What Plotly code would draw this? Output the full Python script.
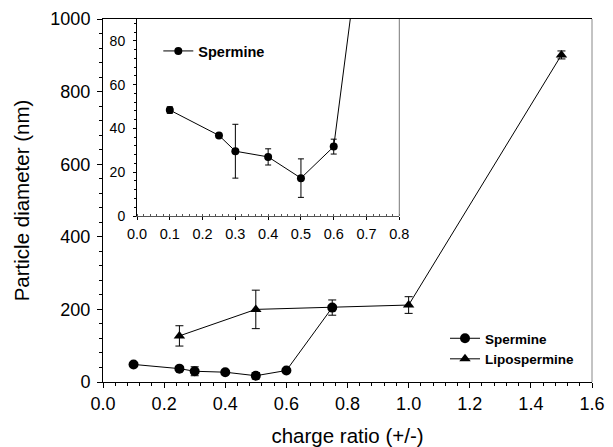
import plotly.graph_objects as go

# Data
sp_x = [0.1, 0.25, 0.3, 0.4, 0.5, 0.6, 0.75]
sp_y = [48.4, 36.8, 29.6, 27.0, 17.3, 31.7, 205.0]
sp_err = [1.5, 0.9, 12.3, 3.7, 8.8, 3.4, 21.0]

lipo_x = [0.25, 0.5, 1.0, 1.5]
lipo_y = [127.0, 200.0, 212.0, 901.0]
lipo_err = [28.0, 53.0, 23.0, 11.0]

main_xticks = [0.0, 0.2, 0.4, 0.6, 0.8, 1.0, 1.2, 1.4, 1.6]
main_yticks = [0, 200, 400, 600, 800, 1000]
inset_xticks = [0.0, 0.1, 0.2, 0.3, 0.4, 0.5, 0.6, 0.7, 0.8]
inset_yticks = [0, 20, 40, 60, 80]

FONT = "Liberation Sans, Arial, sans-serif"

fig = go.Figure()

fig.add_trace(go.Scatter(
    x=sp_x, y=sp_y, name="Spermine", mode="lines+markers",
    line=dict(color="black", width=1),
    marker=dict(symbol="circle", size=10, color="black"),
    error_y=dict(type="data", array=sp_err, color="black", thickness=1, width=4),
    xaxis="x", yaxis="y", legend="legend",
))
fig.add_trace(go.Scatter(
    x=lipo_x, y=lipo_y, name="Lipospermine", mode="lines+markers",
    line=dict(color="black", width=1),
    marker=dict(symbol="triangle-up", size=10, color="black"),
    error_y=dict(type="data", array=lipo_err, color="black", thickness=1, width=4),
    xaxis="x", yaxis="y", legend="legend",
))
fig.add_trace(go.Scatter(
    x=sp_x, y=sp_y, name="Spermine", mode="lines+markers",
    line=dict(color="black", width=1),
    marker=dict(symbol="circle", size=8, color="black"),
    error_y=dict(type="data", array=sp_err, color="black", thickness=1, width=3),
    xaxis="x2", yaxis="y2", legend="legend2",
))

inset_x0 = (136.7 - 102.7) / 489.0
inset_x1 = (399.0 - 102.7) / 489.0
inset_y0 = (382.0 - 216.0) / 363.0

fig.update_layout(
    width=613, height=447,
    margin=dict(l=103, r=21, t=19, b=65, autoexpand=False),
    paper_bgcolor="white", plot_bgcolor="white",
    font=dict(family=FONT, color="black"),
    xaxis=dict(
        domain=[0, 1], range=[0, 1.6], tickvals=main_xticks,
        ticktext=[f"{v:.1f}" for v in main_xticks], automargin=False,
        showgrid=False, zeroline=False, showline=True, linecolor="black",
        linewidth=1, mirror=True, ticks="outside", ticklen=5, tickcolor="black",
        minor=dict(dtick=0.04, ticks="outside", ticklen=3, tickcolor="black"),
        tickfont=dict(size=18),
        title=dict(text="charge ratio (+/-)", font=dict(size=20.5), standoff=16),
    ),
    yaxis=dict(
        domain=[0, 1], range=[0, 1000], tickvals=main_yticks, automargin=False,
        showgrid=False, zeroline=False, showline=True, linecolor="black",
        linewidth=1, ticks="outside", ticklen=5, tickcolor="black",
        minor=dict(dtick=40, ticks="outside", ticklen=3, tickcolor="black"),
        tickfont=dict(size=18), ticklabelstandoff=3,
        title=dict(text="Particle diameter (nm)", font=dict(size=20.5), standoff=15),
    ),
    xaxis2=dict(
        domain=[inset_x0, inset_x1], anchor="y2", range=[0, 0.8], automargin=False,
        tickvals=inset_xticks, ticktext=[f"{v:.1f}" for v in inset_xticks],
        showgrid=False, zeroline=False, showline=True, linecolor="#555555",
        linewidth=1, ticks="outside", ticklen=3, tickcolor="black",
        minor=dict(dtick=0.02, ticks="inside", ticklen=2, tickcolor="#555555"),
        tickfont=dict(size=14.5), ticklabelstandoff=2,
    ),
    yaxis2=dict(
        domain=[inset_y0, 1], anchor="x2", range=[0, 90], automargin=False,
        tickvals=inset_yticks,
        showgrid=False, zeroline=False, showline=True, linecolor="black",
        linewidth=1, ticks="outside", ticklen=3, tickcolor="black",
        minor=dict(dtick=4, ticks="outside", ticklen=2, tickcolor="black"),
        tickfont=dict(size=14), ticklabelstandoff=5,
    ),
    legend=dict(
        x=(444.7 - 102.7) / 489.0, y=(382 - 323) / 363.0,
        xanchor="left", yanchor="top", bgcolor="rgba(0,0,0,0)",
        font=dict(size=13.5, weight="bold"), tracegroupgap=0,
    ),
    legend2=dict(
        x=(158 - 102.7) / 489.0, y=(382 - 35) / 363.0,
        xanchor="left", yanchor="top", bgcolor="rgba(0,0,0,0)",
        font=dict(size=14.5, weight="bold"),
    ),
    shapes=[
        dict(type="line", xref="paper", yref="paper", x0=1, x1=1, y0=0, y1=1,
             line=dict(color="#888888", width=1)),
        dict(type="line", xref="paper", yref="paper", x0=inset_x1, x1=inset_x1,
             y0=inset_y0, y1=1, line=dict(color="#777777", width=1)),
    ],
)

fig.write_html("out.html", config={"displayModeBar": False},
               post_script="document.body.style.margin='0px';")
